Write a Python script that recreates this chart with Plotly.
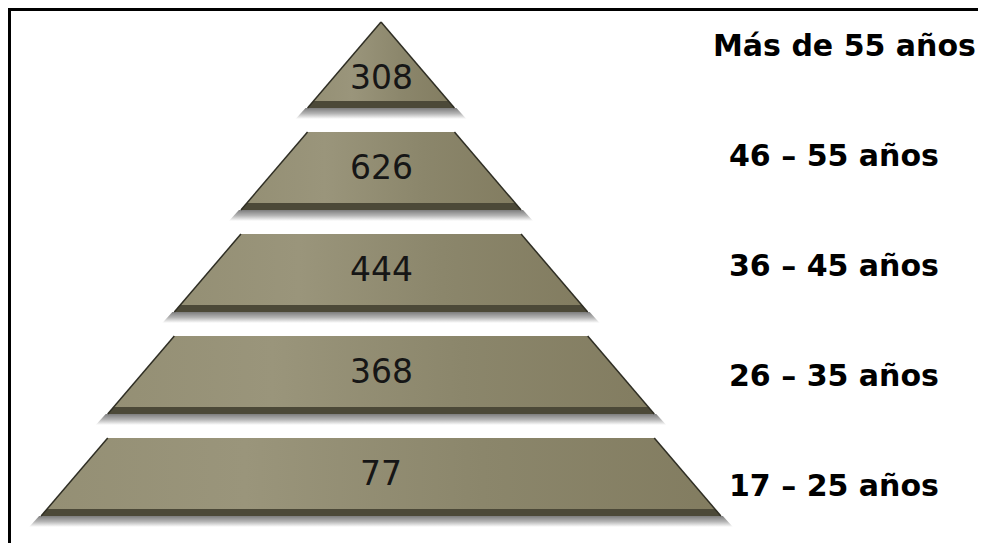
import plotly.graph_objects as go

# ---- data ----
age_groups = ["Más de 55 años", "46 – 55 años", "36 – 45 años", "26 – 35 años", "17 – 25 años"]
counts = [308, 626, 444, 368, 77]

# ---- layout constants (pixels of the 986x543 page) ----
PAGE_W, PAGE_H = 986, 543
OFF = 8                      # default body margin of the html page
W, H = PAGE_W - OFF, PAGE_H - OFF
CX = 381
APEX_Y = 22
TRI_H = 86
LAYER_H = 78
GAP = 24
SLOPE = 0.854
BAND = 7
LABEL_X = 727
LABEL_X_TOP = 711
LABEL_Y0 = 45
LABEL_STEP = 110
FRAME = 9.5

FILL_SCALE = [[0, "#948f74"], [0.3, "#9a957b"], [0.65, "#8b866b"], [1, "#827c60"]]
BAND_COLOR = "#4c4938"
EDGE_COLOR = "#2f2e24"

fig = go.Figure()
annotations = []

top = APEX_Y
s_top = 0.0
for i, (grp, n) in enumerate(zip(age_groups, counts)):
    h = TRI_H if i == 0 else LAYER_H
    bot = top + h
    s_bot = s_top + h
    hw_t = SLOPE * s_top
    hw_b = SLOPE * s_bot

    # shadow below the layer
    fig.add_trace(go.Scatter(
        x=[CX - hw_b - 2, CX + hw_b + 2, CX + hw_b + 12, CX - hw_b - 12, CX - hw_b - 2],
        y=[bot, bot, bot + 11, bot + 11, bot],
        mode="lines", line=dict(width=0), fill="toself",
        fillgradient=dict(type="vertical", start=bot, stop=bot + 11,
                          colorscale=[[0, "#7d7d7d"], [0.5, "#b4b4b4"], [1, "#ffffff"]]),
        hoverinfo="skip", showlegend=False))

    # main body
    fig.add_trace(go.Scatter(
        x=[CX - hw_t, CX + hw_t, CX + hw_b, CX - hw_b, CX - hw_t],
        y=[top, top, bot, bot, top],
        mode="lines", line=dict(width=0), fill="toself",
        fillgradient=dict(type="horizontal", start=CX - hw_b, stop=CX + hw_b,
                          colorscale=FILL_SCALE),
        hoverinfo="skip", showlegend=False))

    # dark bottom bevel band
    hw_bb = SLOPE * (s_bot - BAND)
    fig.add_trace(go.Scatter(
        x=[CX - hw_bb, CX + hw_bb, CX + hw_b, CX - hw_b, CX - hw_bb],
        y=[bot - BAND, bot - BAND, bot, bot, bot - BAND],
        mode="lines", line=dict(width=0), fill="toself", fillcolor=BAND_COLOR,
        hoverinfo="skip", showlegend=False))

    # slanted edges
    fig.add_trace(go.Scatter(
        x=[CX - hw_t, CX - hw_b, None, CX + hw_t, CX + hw_b],
        y=[top, bot, None, top, bot],
        mode="lines", line=dict(width=1.5, color=EDGE_COLOR),
        hoverinfo="skip", showlegend=False))

    # value text
    ny = top + 0.64 * h if i == 0 else top + 35
    annotations.append(dict(x=CX, y=ny, xref="x", yref="y", text=str(n),
                            showarrow=False, xanchor="center", yanchor="middle",
                            font=dict(family="DejaVu Sans", size=33, color="#161616")))

    # group label
    lx = LABEL_X_TOP if i == 0 else LABEL_X
    annotations.append(dict(x=lx, y=LABEL_Y0 + i * LABEL_STEP, xref="x", yref="y",
                            text=grp, showarrow=False, xanchor="left", yanchor="middle",
                            font=dict(family="DejaVu Sans", size=30, color="#000000",
                                      weight="bold")))

    top = bot + GAP
    s_top = s_bot

fig.update_layout(
    width=W, height=H,
    margin=dict(l=0, r=0, t=0, b=0),
    paper_bgcolor="white", plot_bgcolor="white",
    showlegend=False,
    xaxis=dict(range=[OFF, PAGE_W], visible=False, fixedrange=True),
    yaxis=dict(range=[PAGE_H, OFF], visible=False, fixedrange=True),
    annotations=annotations,
    shapes=[dict(type="path", xref="x", yref="y",
                 path=f"M {FRAME} {PAGE_H} L {FRAME} {FRAME} L {PAGE_W} {FRAME}",
                 line=dict(color="black", width=3))],
)

fig.write_html("out.html", config={"displayModeBar": False})
